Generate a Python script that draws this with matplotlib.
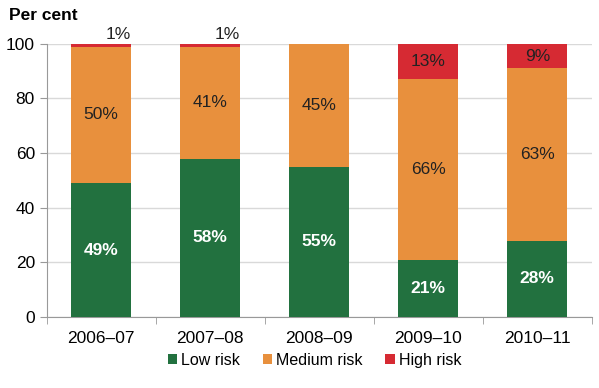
import numpy as np
import matplotlib.pyplot as plt

plt.rcParams['font.family'] = ['Liberation Sans', 'DejaVu Sans']

years = ["2006–07", "2007–08", "2008–09", "2009–10", "2010–11"]
low = [49, 58, 55, 21, 28]
medium = [50, 41, 45, 66, 63]
high = [1, 1, 0, 13, 9]

green = "#22713F"
orange = "#E8903D"
red = "#D62A33"
fs = 12.5

fig = plt.figure(figsize=(5.99, 3.88), dpi=100)
ax = fig.add_axes([0.078, 0.183, 0.91, 0.704])

x = np.arange(len(years))
w = 0.55
low_a = np.array(low)
med_a = np.array(medium)
high_a = np.array(high)

ax.bar(x, low_a, w, color=green, label="Low risk", zorder=3)
ax.bar(x, med_a, w, bottom=low_a, color=orange, label="Medium risk", zorder=3)
ax.bar(x, high_a, w, bottom=low_a + med_a, color=red, label="High risk", zorder=3)

for i in range(len(years)):
    ax.text(x[i], low_a[i] / 2, f"{low[i]}%", ha="center", va="center",
            color="white", fontsize=fs, fontweight="bold", zorder=4)
    ax.text(x[i], low_a[i] + med_a[i] / 2, f"{medium[i]}%", ha="center", va="center",
            color="#222222", fontsize=fs, zorder=4)
    if high[i] >= 5:
        ax.text(x[i], low_a[i] + med_a[i] + high_a[i] / 2, f"{high[i]}%", ha="center",
                va="center", color="#222222", fontsize=fs, zorder=4)
    elif high[i] > 0:
        ax.text(x[i] + 0.16, 100.5, f"{high[i]}%", ha="center", va="bottom",
                color="#222222", fontsize=fs, zorder=4)

ax.set_xlim(-0.5, len(years) - 0.5)
ax.set_ylim(0, 100)
ax.set_yticks(range(0, 101, 20))
ax.set_xticks(x)
ax.set_xticklabels(years, fontsize=fs)
ax.tick_params(axis="y", labelsize=fs, length=5, color="#999999")
ax.tick_params(axis="x", length=0, pad=10)
# category boundary ticks
ax.set_xticks(np.arange(-0.5, len(years), 1), minor=True)
ax.tick_params(axis="x", which="minor", length=5, color="#999999")

ax.grid(axis="y", color="#d9d9d9", linewidth=1, zorder=0)
for s in ["top", "right"]:
    ax.spines[s].set_visible(False)
ax.spines["left"].set_color("#999999")
ax.spines["bottom"].set_color("#999999")

fig.text(0.015, 0.96, "Per cent", fontsize=fs, fontweight="bold", va="center")

fig.legend(loc="center", bbox_to_anchor=(0.525, 0.072), ncol=3, frameon=False,
           fontsize=11.5, handlelength=0.6, handleheight=0.6, handletextpad=0.25,
           columnspacing=1.4)

fig.savefig("out.png", dpi=100)
